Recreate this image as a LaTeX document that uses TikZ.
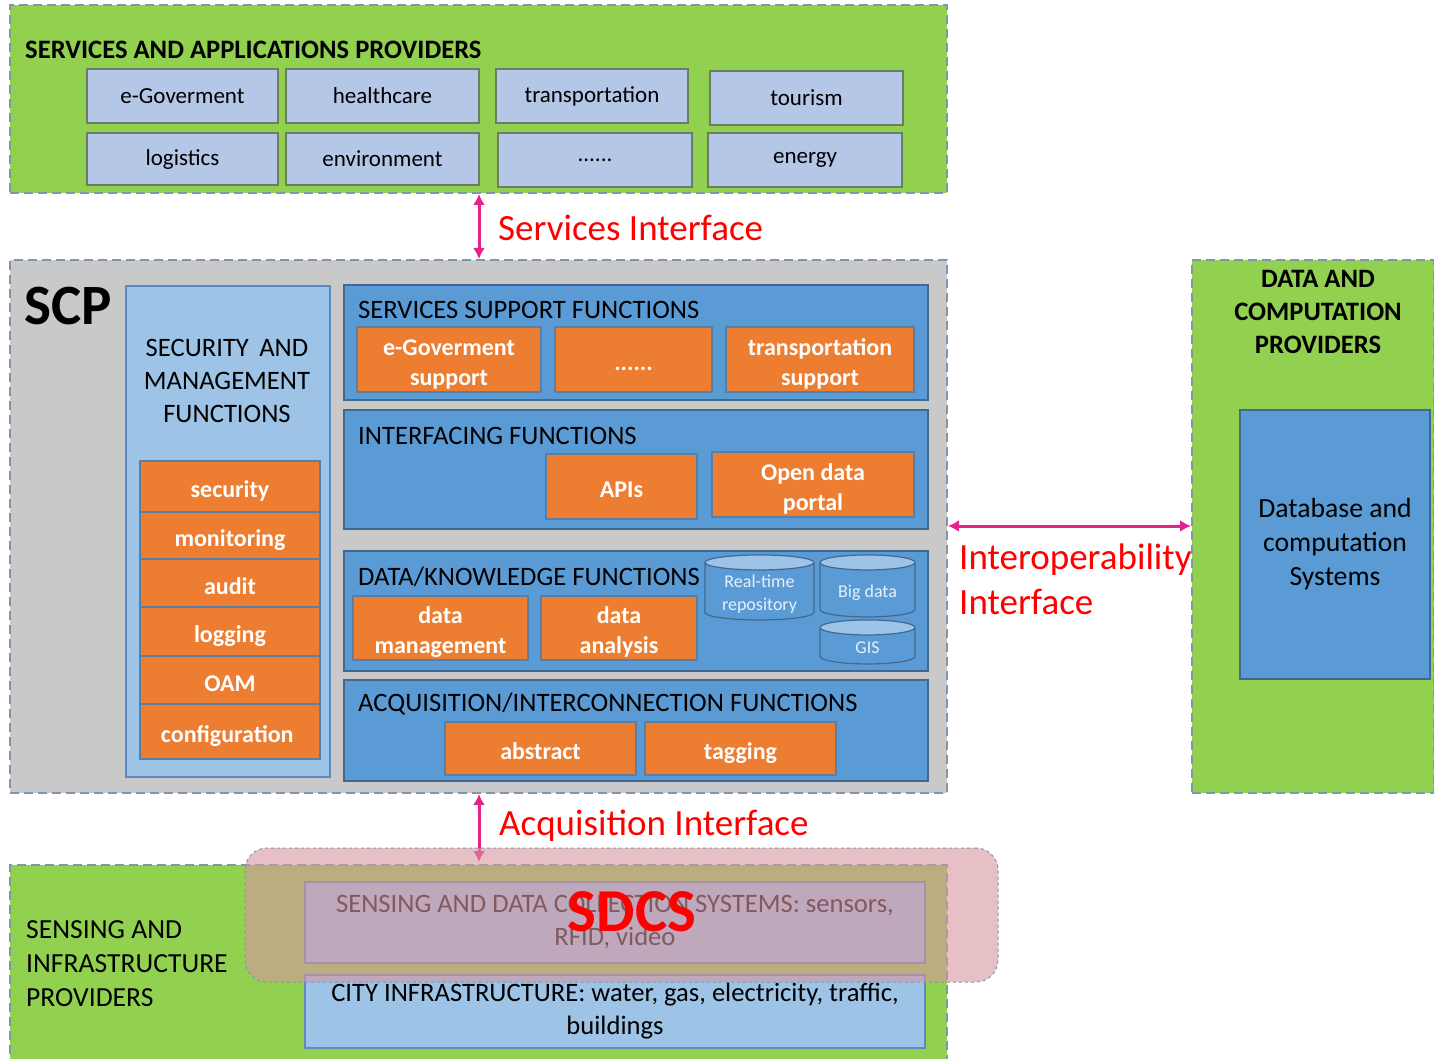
\documentclass[tikz,border=0pt]{standalone}
\usepackage{fontspec}
\setmainfont{Carlito}
\usetikzlibrary{positioning}
\usetikzlibrary{shapes.geometric}
\usetikzlibrary{arrows.meta}
\definecolor{provgreen}{HTML}{92D050}
\definecolor{edgegray}{HTML}{7F97AC}
\definecolor{scpgray}{HTML}{C9C9C9}
\definecolor{appblue}{HTML}{B4C7E7}
\definecolor{appedge}{HTML}{6A7D64}
\definecolor{funcblue}{HTML}{5B9BD5}
\definecolor{funcedge}{HTML}{41698F}
\definecolor{secblue}{HTML}{9DC3E6}
\definecolor{secedge}{HTML}{5B8BC0}
\definecolor{fnorange}{HTML}{ED7D31}
\definecolor{fnedge}{HTML}{5A7FA6}
\definecolor{cylend}{HTML}{9DC3E6}
\definecolor{ifacered}{HTML}{FF0000}
\definecolor{ifacepink}{HTML}{E6238A}
\definecolor{sdcspink}{HTML}{D796A0}
% struts that push box texts a little lower
\newcommand{\fnstrut}{\rule[-4pt]{0pt}{30.5pt}}
\newcommand{\fntallstrut}{\rule[-5pt]{0pt}{61pt}}
% invisible body that sets the cylinder end
\newcommand{\cylbody}{\rule{75pt}{0pt}}

\begin{document}
\begin{tikzpicture}[x=1pt, y=-1pt,
    provider/.style={draw=edgegray, fill=provgreen, line width=2pt, dash pattern=on 9pt off 5pt, inner sep=0pt},
    appbox/.style={draw=appedge, fill=appblue, line width=2.2pt, inner sep=0pt, font=\fontsize{23}{27}\selectfont},
    funcbox/.style={draw=funcedge, fill=funcblue, line width=2.2pt, inner sep=0pt},
    functitle/.style={inner sep=0pt, anchor=west, font=\fontsize{26.6}{30}\selectfont},
    fnbox/.style={draw=fnedge, fill=fnorange, line width=1.2pt, inner sep=0pt, align=center, text=white,
        font=\bfseries\fontsize{24}{30}\selectfont, execute at begin node=\fnstrut},
    fnbox2/.style={fnbox, execute at begin node=\fntallstrut},
    storage/.style={cylinder, shape border rotate=90, aspect=0.2, draw=funcedge, line width=1.2pt, inner sep=0pt,
        cylinder uses custom fill, cylinder body fill=funcblue, cylinder end fill=cylend},
    storagetext/.style={inner sep=0pt, yshift=-3pt, align=center, text=white!85!funcblue, font=\fontsize{18}{23}\selectfont},
    infobox/.style={draw=secedge, fill=secblue, line width=1.5pt, inner sep=0pt, align=center, font=\fontsize{26.6}{33}\selectfont},
    iface/.style={draw=ifacepink, line width=3pt, {Latex[length=11pt,width=12pt]}-{Latex[length=11pt,width=12pt]}},
    ifacelabel/.style={text=ifacered, inner sep=0pt, font=\fontsize{37}{45}\selectfont}
]
    \useasboundingbox (0,0) rectangle (1434,1059);

    % Services and applications providers
    \node[provider, minimum width=937, minimum height=188] (apps) at (478.5,99) {};
    \node[inner sep=0pt, anchor=west, font=\bfseries\fontsize{26.6}{30}\selectfont] (appst) at (25,50) {SERVICES AND APPLICATIONS PROVIDERS};
    \foreach \nm/\cx/\cy/\w/\h/\txt in {
        egov/182.5/96/191/54/{e-Goverment},
        hlth/382.5/96/193/54/{healthcare},
        trns/592/96/192/54/{transportation},
        tour/806.5/98/193/54/{tourism},
        logi/182.5/159/191/52/{logistics},
        envi/382.5/159/193/52/{environment},
        more/595/160/194/54/{......},
        enrg/805/160/194/54/{energy}
    } {
        \node[appbox, minimum width=\w, minimum height=\h] (\nm) at (\cx,\cy) {\txt};
    }

    % SCP
    \node[provider, fill=scpgray, minimum width=937, minimum height=533] (scp) at (478.5,526.5) {};
    \node[inner sep=0pt, anchor=west, font=\bfseries\fontsize{57}{60}\selectfont] (scpt) at (24,306) {SCP};

    % Security and management column
    \node[infobox, minimum width=204, minimum height=491] (secm) at (228,531.5) {};
    \node[inner sep=0pt, align=center, font=\fontsize{26.6}{33}\selectfont] (secmt) at (227,381) {SECURITY\, AND\\MANAGEMENT\\FUNCTIONS};
    \foreach \nm/\cy/\h/\txt in {
        secu/486.5/51/security,
        moni/535.5/47/monitoring,
        audi/583/48/audit,
        logg/631.5/49/logging,
        oam/680/48/OAM,
        conf/731.5/55/configuration
    } {
        \node[fnbox, minimum width=180, minimum height=\h] (\nm) at (230,\cy) {\txt};
    }

    % Function layers
    \node[funcbox, minimum width=584, minimum height=115] (ssf) at (636,342.5) {};
    \node[functitle] (ssft) at (358,310) {SERVICES SUPPORT FUNCTIONS};
    \node[fnbox2, minimum width=184, minimum height=65] (egsu) at (449,359.5) {e-Goverment\\support};
    \node[fnbox, minimum width=157, minimum height=65] (sdot) at (633.5,359.5) {......};
    \node[fnbox2, minimum width=188, minimum height=65] (trsu) at (820,359.5) {transportation\\support};

    \node[funcbox, minimum width=584, minimum height=119] (inf) at (636,469.5) {};
    \node[functitle] (inft) at (358,436) {INTERFACING FUNCTIONS};
    \node[fnbox, minimum width=151, minimum height=65] (apis) at (621.5,486.5) {APIs};
    \node[fnbox2, minimum width=202, minimum height=65] (odp) at (813,484.5) {Open data\\portal};

    \node[funcbox, minimum width=584, minimum height=120] (dkf) at (636,611) {};
    \node[functitle] (dkft) at (358,577) {DATA/KNOWLEDGE FUNCTIONS};
    \node[fnbox2, minimum width=175, minimum height=64] (dmgt) at (440.5,628) {data\\management};
    \node[fnbox2, minimum width=156, minimum height=64] (dana) at (619,628) {data\\analysis};
    \node[storage, minimum width=109, minimum height=65, label={[storagetext]center:{Real-time\\repository}}] (rtr) at (759.5,591.5) {\cylbody};
    \node[storage, minimum width=95, minimum height=62, label={[storagetext]center:{Big data}}] (bigd) at (867.5,590) {\cylbody};
    \node[storage, minimum width=95, minimum height=44, label={[storagetext, yshift=1pt]center:{GIS}}] (gis) at (867.5,646) {\cylbody};

    \node[funcbox, minimum width=584, minimum height=101] (aif) at (636,730.5) {};
    \node[functitle] (aift) at (358,704) {ACQUISITION/INTERCONNECTION FUNCTIONS};
    \node[fnbox, minimum width=191, minimum height=53] (abst) at (540.5,748.5) {abstract};
    \node[fnbox, minimum width=191, minimum height=53] (tagg) at (740.5,748.5) {tagging};

    % Data and computation providers
    \node[provider, minimum width=242, minimum height=533] (dcp) at (1313,526.5) {};
    \node[inner sep=0pt, align=center, font=\bfseries\fontsize{26.6}{33}\selectfont] (dcpt) at (1318,312) {DATA AND\\COMPUTATION\\PROVIDERS};
    \node[funcbox, minimum width=190, minimum height=269, align=center, font=\fontsize{27.7}{34}\selectfont] (dbcs) at (1335,544.5) {Database and\\computation\\Systems};

    % Sensing and infrastructure providers
    \node[provider, minimum width=937, minimum height=200] (sip) at (478.5,965) {};
    \node[inner sep=0pt, align=left, anchor=west, font=\fontsize{27.6}{34}\selectfont] (sipt) at (26,964) {SENSING AND\\INFRASTRUCTURE\\PROVIDERS};
    \node[infobox, minimum width=620, minimum height=81] (sdcs) at (615,922.5) {SENSING AND DATA COLLECTION SYSTEMS: sensors,\\RFID, video};
    \node[infobox, minimum width=620, minimum height=73] (city) at (615,1011.5) {CITY INFRASTRUCTURE: water, gas, electricity, traffic,\\buildings};

    % Interfaces
    \coordinate (sref) at (479,0);
    \coordinate (iref) at (0,526);
    \draw[iface] (apps.south -| sref) -- (scp.north -| sref);
    \node[ifacelabel, anchor=west] (sifl) at (498,228) {Services Interface};
    \draw[iface] (scp.east |- iref) -- (dcp.west |- iref);
    \node[ifacelabel, anchor=north west, align=left] (iofl) at (959,544) {Interoperability\\Interface};
    \draw[iface, shorten >=2pt] (scp.south -| sref) -- (sip.north -| sref);
    \node[ifacelabel, anchor=west] (acfl) at (499,826) {Acquisition Interface};

    % SDCS overlay
    \node[draw=edgegray, dashed, line width=1pt, fill=sdcspink, fill opacity=0.6, rounded corners=22pt,
        minimum width=753, minimum height=134] (sdov) at (621.5,915) {};
    \node[inner sep=0pt, text=ifacered, font=\bfseries\fontsize{61}{64}\selectfont] (sdovt) at (632,912) {SDCS};
\end{tikzpicture}
\end{document}
